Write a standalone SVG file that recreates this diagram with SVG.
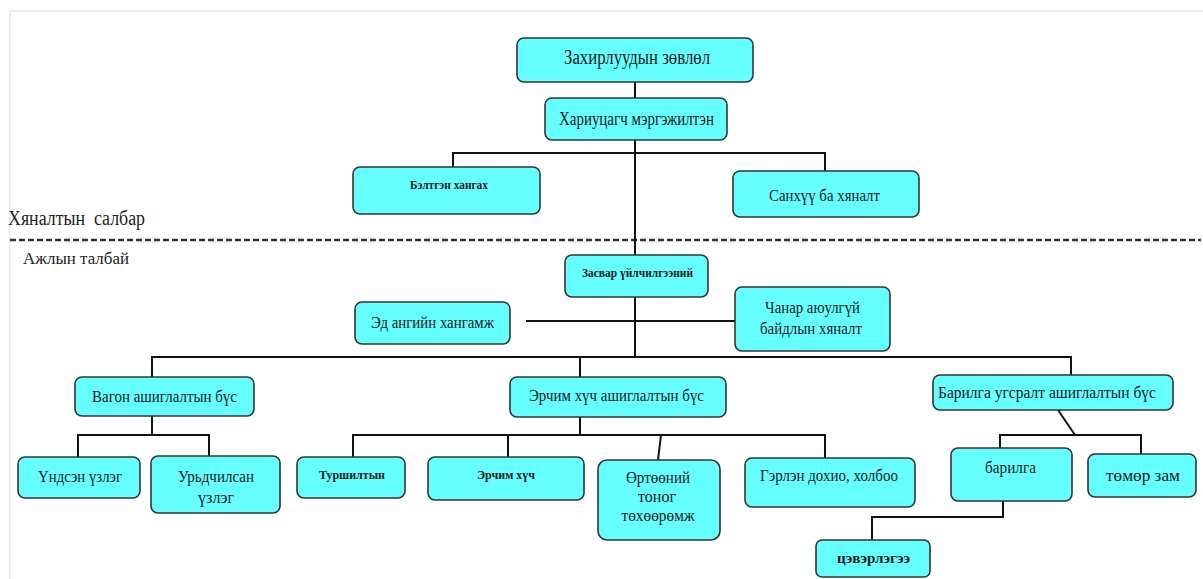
<svg xmlns="http://www.w3.org/2000/svg" width="1203" height="579" viewBox="0 0 1203 579">
  <style>
    .box { fill: #66ffff; stroke: #333; stroke-width: 1.6; }
    .t { font-family: "Liberation Serif", "Times New Roman", serif; fill: #1a1a1a; text-anchor: middle; }
    .m { font-size: 17.5px; }
    .l { font-size: 20px; }
    .s { font-size: 11.5px; font-weight: bold; }
    .lbl { font-family: "Liberation Serif", "Times New Roman", serif; fill: #222; white-space: pre; }
    .wire { fill: none; stroke: #111; stroke-width: 2; }
    .frame { fill: none; stroke: #dcdcdc; stroke-width: 1; }
    .divider { fill: none; stroke: #333; stroke-width: 2.5; stroke-dasharray: 6 3; }
  </style>

  <!-- page frame -->
  <path class="frame" d="M10,579 V11 H1203"/>

  <!-- section divider and labels -->
  <line class="divider" x1="10" y1="240" x2="1201" y2="240"/>
  <text class="lbl" x="8" y="225" font-size="20" textLength="137" lengthAdjust="spacingAndGlyphs">Хяналтын  салбар</text>
  <text class="lbl" x="23" y="264" font-size="16" textLength="106" lengthAdjust="spacingAndGlyphs">Ажлын талбай</text>

  <!-- connectors -->
  <g id="connectors">
    <path class="wire" d="M635,82 V98"/>
    <path class="wire" d="M635,140 V255"/>
    <path class="wire" d="M453,167 V153 H825 V171"/>
    <path class="wire" d="M526,321 H735"/>
    <path class="wire" d="M635,297 V357"/>
    <path class="wire" d="M152,377 V357 H1071 V375"/>
    <path class="wire" d="M580,357 V377"/>
    <path class="wire" d="M152,416 V435"/>
    <path class="wire" d="M78,457 V435 H209 V456"/>
    <path class="wire" d="M580,417 V435"/>
    <path class="wire" d="M353,457 V435 H825 V458"/>
    <path class="wire" d="M508,435 V457"/>
    <path class="wire" d="M661,435 L658,460"/>
    <path class="wire" d="M1058,410 L1075,435"/>
    <path class="wire" d="M1000,455 V435 H1141 V454"/>
    <path class="wire" d="M1003,501 V517 H872 V540"/>
  </g>

  <g id="n-board">
    <rect class="box" x="517" y="38" width="236" height="44" rx="7"/>
    <text class="t l" x="637" y="64" textLength="146" lengthAdjust="spacingAndGlyphs">Захирлуудын зөвлөл</text>
  </g>
  <g id="n-specialist">
    <rect class="box" x="545" y="98" width="182" height="42" rx="7"/>
    <text class="t" x="636.5" y="125" font-size="18.5" textLength="155" lengthAdjust="spacingAndGlyphs">Хариуцагч мэргэжилтэн</text>
  </g>
  <g id="n-supply">
    <rect class="box" x="353" y="167" width="187" height="47" rx="7"/>
    <text class="t s" x="449" y="189" textLength="78" lengthAdjust="spacingAndGlyphs">Бэлтгэн хангах</text>
  </g>
  <g id="n-finance">
    <rect class="box" x="733" y="171" width="186" height="46" rx="7"/>
    <text class="t m" x="824.5" y="201" textLength="111" lengthAdjust="spacingAndGlyphs">Санхүү ба хяналт</text>
  </g>
  <g id="n-service">
    <rect class="box" x="565" y="255" width="143" height="42" rx="7"/>
    <text class="t" x="637.5" y="277" font-size="12.5" font-weight="bold" textLength="111" lengthAdjust="spacingAndGlyphs">Засвар үйлчилгээний</text>
  </g>
  <g id="n-parts">
    <rect class="box" x="355" y="302" width="155" height="42" rx="7"/>
    <text class="t m" x="432.5" y="328" textLength="123" lengthAdjust="spacingAndGlyphs">Эд ангийн хангамж</text>
  </g>
  <g id="n-safety">
    <rect class="box" x="735" y="287" width="155" height="64" rx="7"/>
    <text class="t m" x="812.5" y="313" textLength="95" lengthAdjust="spacingAndGlyphs">Чанар аюулгүй</text>
    <text class="t m" x="811" y="334" textLength="102" lengthAdjust="spacingAndGlyphs">байдлын хяналт</text>
  </g>
  <g id="n-wagon">
    <rect class="box" x="75" y="377" width="179" height="39" rx="7"/>
    <text class="t m" x="164.5" y="402" textLength="145" lengthAdjust="spacingAndGlyphs">Вагон ашиглалтын бүс</text>
  </g>
  <g id="n-power">
    <rect class="box" x="510" y="377" width="216" height="40" rx="7"/>
    <text class="t m" x="616.5" y="401" textLength="175" lengthAdjust="spacingAndGlyphs">Эрчим хүч ашиглалтын бүс</text>
  </g>
  <g id="n-construction">
    <rect class="box" x="933" y="375" width="240" height="35" rx="7"/>
    <text class="t m" x="1047" y="398" textLength="218" lengthAdjust="spacingAndGlyphs">Барилга угсралт ашиглалтын бүс</text>
  </g>
  <g id="n-main-inspection">
    <rect class="box" x="18" y="457" width="122" height="41" rx="7"/>
    <text class="t m" x="80" y="482" textLength="84" lengthAdjust="spacingAndGlyphs">Үндсэн үзлэг</text>
  </g>
  <g id="n-pre-inspection">
    <rect class="box" x="151" y="456" width="129" height="57" rx="7"/>
    <text class="t m" x="216" y="482" textLength="76" lengthAdjust="spacingAndGlyphs">Урьдчилсан</text>
    <text class="t m" x="216" y="503" textLength="36" lengthAdjust="spacingAndGlyphs">үзлэг</text>
  </g>
  <g id="n-testing">
    <rect class="box" x="297" y="457" width="108" height="41" rx="7"/>
    <text class="t s" x="352" y="479" textLength="66" lengthAdjust="spacingAndGlyphs">Туршилтын</text>
  </g>
  <g id="n-energy">
    <rect class="box" x="428" y="457" width="156" height="43" rx="7"/>
    <text class="t s" x="506" y="479" textLength="58" lengthAdjust="spacingAndGlyphs">Эрчим хүч</text>
  </g>
  <g id="n-station">
    <rect class="box" x="598" y="460" width="122" height="80" rx="9"/>
    <text class="t" x="658" y="483" font-size="16.5" textLength="64" lengthAdjust="spacingAndGlyphs">Өртөөний</text>
    <text class="t" x="657" y="502" font-size="16.5" textLength="38" lengthAdjust="spacingAndGlyphs">тоног</text>
    <text class="t" x="658" y="521" font-size="16.5" textLength="73" lengthAdjust="spacingAndGlyphs">төхөөрөмж</text>
  </g>
  <g id="n-signal">
    <rect class="box" x="745" y="458" width="170" height="49" rx="7"/>
    <text class="t" x="829" y="481" font-size="16.5" textLength="138" lengthAdjust="spacingAndGlyphs">Гэрлэн дохио, холбоо</text>
  </g>
  <g id="n-building">
    <rect class="box" x="951" y="448" width="121" height="53" rx="7"/>
    <text class="t" x="1010.5" y="473" font-size="16.5" textLength="51" lengthAdjust="spacingAndGlyphs">барилга</text>
  </g>
  <g id="n-rail">
    <rect class="box" x="1088" y="454" width="108" height="43" rx="7"/>
    <text class="t" x="1143" y="481" font-size="16.5" textLength="74" lengthAdjust="spacingAndGlyphs">төмөр зам</text>
  </g>
  <g id="n-cleaning">
    <rect class="box" x="816" y="540" width="114" height="37" rx="6"/>
    <text class="t" x="873.5" y="563" font-size="14" font-weight="bold" textLength="73" lengthAdjust="spacingAndGlyphs">цэвэрлэгээ</text>
  </g>
</svg>
